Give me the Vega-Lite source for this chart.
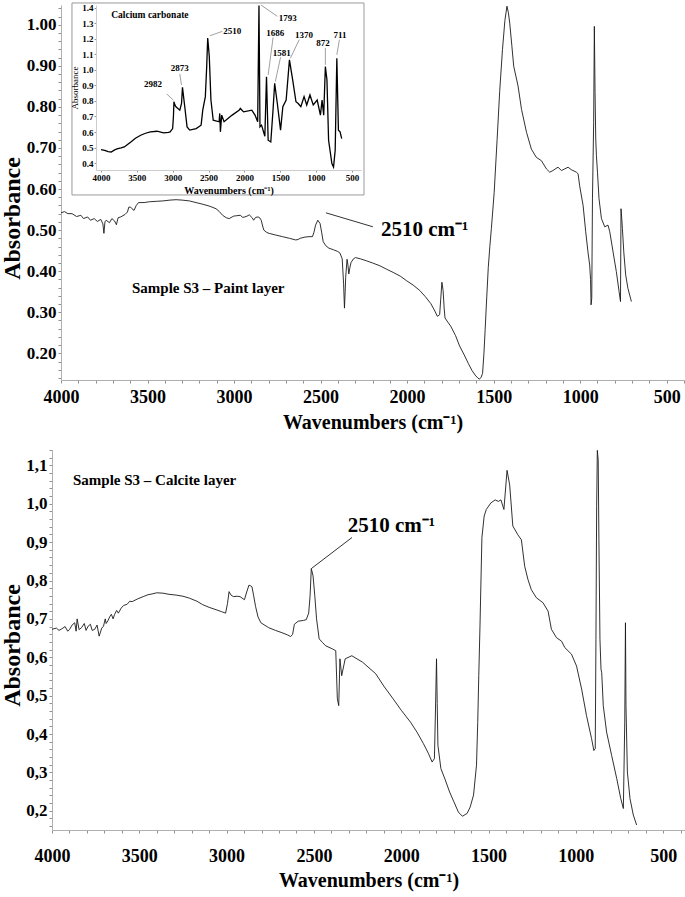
{
  "$schema": "https://vega.github.io/schema/vega-lite/v6.json",
  "width": 685,
  "height": 897,
  "autosize": "none",
  "padding": 0,
  "datasets": {
    "paint": [
      {"wn":4000,"a":0.542},{"wn":3980,"a":0.545},{"wn":3960,"a":0.540},{"wn":3936,"a":0.540},{"wn":3910,"a":0.533},{"wn":3885,"a":0.536},{"wn":3870,"a":0.528},{"wn":3846,"a":0.532},{"wn":3830,"a":0.524},{"wn":3808,"a":0.528},{"wn":3790,"a":0.521},{"wn":3770,"a":0.526},{"wn":3758,"a":0.515},{"wn":3752,"a":0.492},{"wn":3746,"a":0.520},{"wn":3739,"a":0.524},{"wn":3720,"a":0.518},{"wn":3706,"a":0.528},{"wn":3690,"a":0.522},{"wn":3680,"a":0.513},{"wn":3670,"a":0.530},{"wn":3655,"a":0.532},{"wn":3630,"a":0.538},{"wn":3616,"a":0.544},{"wn":3608,"a":0.556},{"wn":3598,"a":0.556},{"wn":3590,"a":0.552},{"wn":3578,"a":0.548},{"wn":3565,"a":0.560},{"wn":3552,"a":0.567},{"wn":3520,"a":0.567},{"wn":3488,"a":0.569},{"wn":3450,"a":0.570},{"wn":3411,"a":0.571},{"wn":3370,"a":0.573},{"wn":3335,"a":0.574},{"wn":3300,"a":0.573},{"wn":3258,"a":0.571},{"wn":3220,"a":0.567},{"wn":3181,"a":0.563},{"wn":3140,"a":0.558},{"wn":3104,"a":0.552},{"wn":3085,"a":0.545},{"wn":3066,"a":0.536},{"wn":3045,"a":0.530},{"wn":3028,"a":0.528},{"wn":3002,"a":0.534},{"wn":2985,"a":0.535},{"wn":2964,"a":0.536},{"wn":2950,"a":0.531},{"wn":2938,"a":0.532},{"wn":2925,"a":0.534},{"wn":2912,"a":0.537},{"wn":2895,"a":0.530},{"wn":2887,"a":0.524},{"wn":2875,"a":0.531},{"wn":2861,"a":0.532},{"wn":2850,"a":0.529},{"wn":2843,"a":0.524},{"wn":2835,"a":0.510},{"wn":2828,"a":0.500},{"wn":2810,"a":0.494},{"wn":2797,"a":0.492},{"wn":2760,"a":0.488},{"wn":2720,"a":0.484},{"wn":2680,"a":0.480},{"wn":2644,"a":0.476},{"wn":2630,"a":0.477},{"wn":2618,"a":0.480},{"wn":2590,"a":0.483},{"wn":2567,"a":0.484},{"wn":2547,"a":0.484},{"wn":2538,"a":0.495},{"wn":2529,"a":0.512},{"wn":2516,"a":0.524},{"wn":2503,"a":0.516},{"wn":2494,"a":0.495},{"wn":2485,"a":0.472},{"wn":2470,"a":0.462},{"wn":2452,"a":0.456},{"wn":2425,"a":0.452},{"wn":2401,"a":0.448},{"wn":2388,"a":0.444},{"wn":2375,"a":0.430},{"wn":2367,"a":0.369},{"wn":2362,"a":0.310},{"wn":2358,"a":0.350},{"wn":2355,"a":0.385},{"wn":2347,"a":0.429},{"wn":2342,"a":0.415},{"wn":2337,"a":0.393},{"wn":2330,"a":0.410},{"wn":2324,"a":0.421},{"wn":2310,"a":0.430},{"wn":2298,"a":0.433},{"wn":2270,"a":0.430},{"wn":2234,"a":0.425},{"wn":2200,"a":0.420},{"wn":2157,"a":0.413},{"wn":2120,"a":0.405},{"wn":2081,"a":0.397},{"wn":2040,"a":0.388},{"wn":2004,"a":0.377},{"wn":1965,"a":0.366},{"wn":1927,"a":0.353},{"wn":1895,"a":0.338},{"wn":1863,"a":0.321},{"wn":1840,"a":0.303},{"wn":1825,"a":0.290},{"wn":1812,"a":0.294},{"wn":1806,"a":0.330},{"wn":1799,"a":0.373},{"wn":1792,"a":0.353},{"wn":1786,"a":0.310},{"wn":1781,"a":0.286},{"wn":1765,"a":0.276},{"wn":1748,"a":0.266},{"wn":1720,"a":0.243},{"wn":1697,"a":0.218},{"wn":1670,"a":0.196},{"wn":1646,"a":0.175},{"wn":1625,"a":0.158},{"wn":1607,"a":0.147},{"wn":1592,"a":0.140},{"wn":1582,"a":0.137},{"wn":1572,"a":0.142},{"wn":1564,"a":0.151},{"wn":1556,"a":0.200},{"wn":1549,"a":0.258},{"wn":1540,"a":0.335},{"wn":1531,"a":0.409},{"wn":1522,"a":0.460},{"wn":1513,"a":0.504},{"wn":1497,"a":0.591},{"wn":1480,"a":0.720},{"wn":1465,"a":0.838},{"wn":1449,"a":0.939},{"wn":1435,"a":1.010},{"wn":1423,"a":1.045},{"wn":1415,"a":1.030},{"wn":1407,"a":1.004},{"wn":1395,"a":0.950},{"wn":1384,"a":0.899},{"wn":1359,"a":0.851},{"wn":1339,"a":0.794},{"wn":1310,"a":0.738},{"wn":1282,"a":0.697},{"wn":1253,"a":0.677},{"wn":1224,"a":0.669},{"wn":1195,"a":0.649},{"wn":1176,"a":0.641},{"wn":1157,"a":0.645},{"wn":1140,"a":0.650},{"wn":1128,"a":0.653},{"wn":1108,"a":0.645},{"wn":1089,"a":0.649},{"wn":1070,"a":0.653},{"wn":1051,"a":0.647},{"wn":1022,"a":0.641},{"wn":1012,"a":0.637},{"wn":1003,"a":0.608},{"wn":983,"a":0.560},{"wn":968,"a":0.496},{"wn":955,"a":0.447},{"wn":945,"a":0.415},{"wn":940,"a":0.380},{"wn":937,"a":0.318},{"wn":933,"a":0.334},{"wn":929,"a":0.576},{"wn":922,"a":0.762},{"wn":918,"a":0.996},{"wn":914,"a":0.835},{"wn":910,"a":0.722},{"wn":906,"a":0.681},{"wn":900,"a":0.641},{"wn":891,"a":0.576},{"wn":877,"a":0.528},{"wn":858,"a":0.508},{"wn":839,"a":0.512},{"wn":829,"a":0.496},{"wn":810,"a":0.447},{"wn":791,"a":0.399},{"wn":775,"a":0.350},{"wn":767,"a":0.326},{"wn":764,"a":0.552},{"wn":760,"a":0.530},{"wn":756,"a":0.504},{"wn":748,"a":0.447},{"wn":737,"a":0.391},{"wn":724,"a":0.358},{"wn":704,"a":0.326}
    ],
    "calcite": [
      {"wn":4000,"a":0.673},{"wn":3975,"a":0.676},{"wn":3960,"a":0.670},{"wn":3944,"a":0.674},{"wn":3925,"a":0.680},{"wn":3910,"a":0.668},{"wn":3900,"a":0.672},{"wn":3885,"a":0.684},{"wn":3870,"a":0.690},{"wn":3862,"a":0.668},{"wn":3856,"a":0.700},{"wn":3845,"a":0.672},{"wn":3831,"a":0.677},{"wn":3815,"a":0.688},{"wn":3805,"a":0.670},{"wn":3793,"a":0.681},{"wn":3780,"a":0.686},{"wn":3770,"a":0.670},{"wn":3755,"a":0.673},{"wn":3742,"a":0.684},{"wn":3730,"a":0.655},{"wn":3715,"a":0.676},{"wn":3705,"a":0.681},{"wn":3695,"a":0.700},{"wn":3690,"a":0.688},{"wn":3680,"a":0.695},{"wn":3670,"a":0.705},{"wn":3660,"a":0.712},{"wn":3650,"a":0.700},{"wn":3642,"a":0.711},{"wn":3630,"a":0.722},{"wn":3620,"a":0.715},{"wn":3604,"a":0.728},{"wn":3590,"a":0.735},{"wn":3570,"a":0.738},{"wn":3555,"a":0.746},{"wn":3541,"a":0.745},{"wn":3510,"a":0.752},{"wn":3478,"a":0.758},{"wn":3450,"a":0.763},{"wn":3427,"a":0.765},{"wn":3400,"a":0.768},{"wn":3364,"a":0.767},{"wn":3330,"a":0.764},{"wn":3289,"a":0.762},{"wn":3250,"a":0.759},{"wn":3213,"a":0.754},{"wn":3170,"a":0.746},{"wn":3137,"a":0.737},{"wn":3100,"a":0.730},{"wn":3061,"a":0.724},{"wn":3030,"a":0.719},{"wn":3006,"a":0.715},{"wn":2995,"a":0.740},{"wn":2986,"a":0.771},{"wn":2975,"a":0.762},{"wn":2961,"a":0.758},{"wn":2940,"a":0.759},{"wn":2923,"a":0.758},{"wn":2905,"a":0.752},{"wn":2898,"a":0.750},{"wn":2885,"a":0.770},{"wn":2872,"a":0.788},{"wn":2862,"a":0.786},{"wn":2855,"a":0.784},{"wn":2845,"a":0.760},{"wn":2834,"a":0.732},{"wn":2820,"a":0.705},{"wn":2804,"a":0.690},{"wn":2759,"a":0.677},{"wn":2720,"a":0.670},{"wn":2683,"a":0.664},{"wn":2650,"a":0.658},{"wn":2633,"a":0.654},{"wn":2622,"a":0.660},{"wn":2612,"a":0.686},{"wn":2590,"a":0.694},{"wn":2560,"a":0.696},{"wn":2544,"a":0.698},{"wn":2530,"a":0.715},{"wn":2522,"a":0.760},{"wn":2515,"a":0.831},{"wn":2505,"a":0.812},{"wn":2495,"a":0.760},{"wn":2485,"a":0.700},{"wn":2470,"a":0.648},{"wn":2450,"a":0.638},{"wn":2433,"a":0.630},{"wn":2395,"a":0.622},{"wn":2375,"a":0.617},{"wn":2366,"a":0.492},{"wn":2358,"a":0.474},{"wn":2351,"a":0.596},{"wn":2341,"a":0.552},{"wn":2321,"a":0.596},{"wn":2283,"a":0.604},{"wn":2221,"a":0.587},{"wn":2146,"a":0.557},{"wn":2100,"a":0.525},{"wn":2047,"a":0.492},{"wn":2000,"a":0.462},{"wn":1947,"a":0.431},{"wn":1910,"a":0.405},{"wn":1873,"a":0.375},{"wn":1845,"a":0.350},{"wn":1823,"a":0.327},{"wn":1810,"a":0.336},{"wn":1804,"a":0.460},{"wn":1798,"a":0.596},{"wn":1794,"a":0.480},{"wn":1790,"a":0.371},{"wn":1773,"a":0.310},{"wn":1750,"a":0.283},{"wn":1723,"a":0.249},{"wn":1700,"a":0.225},{"wn":1673,"a":0.197},{"wn":1660,"a":0.190},{"wn":1648,"a":0.186},{"wn":1635,"a":0.190},{"wn":1623,"a":0.193},{"wn":1605,"a":0.210},{"wn":1586,"a":0.241},{"wn":1569,"a":0.319},{"wn":1562,"a":0.430},{"wn":1556,"a":0.552},{"wn":1549,"a":0.682},{"wn":1538,"a":0.912},{"wn":1525,"a":0.968},{"wn":1513,"a":0.985},{"wn":1487,"a":1.002},{"wn":1462,"a":1.010},{"wn":1444,"a":1.006},{"wn":1429,"a":1.010},{"wn":1412,"a":0.985},{"wn":1394,"a":1.087},{"wn":1379,"a":1.049},{"wn":1361,"a":0.942},{"wn":1332,"a":0.919},{"wn":1312,"a":0.906},{"wn":1293,"a":0.837},{"wn":1274,"a":0.802},{"wn":1255,"a":0.776},{"wn":1226,"a":0.755},{"wn":1188,"a":0.742},{"wn":1159,"a":0.720},{"wn":1140,"a":0.673},{"wn":1111,"a":0.651},{"wn":1082,"a":0.642},{"wn":1063,"a":0.625},{"wn":1025,"a":0.608},{"wn":996,"a":0.577},{"wn":967,"a":0.517},{"wn":939,"a":0.448},{"wn":910,"a":0.388},{"wn":897,"a":0.357},{"wn":889,"a":0.362},{"wn":885,"a":0.647},{"wn":881,"a":0.992},{"wn":877,"a":1.139},{"wn":872,"a":1.113},{"wn":868,"a":0.906},{"wn":862,"a":0.647},{"wn":856,"a":0.569},{"wn":852,"a":0.560},{"wn":843,"a":0.474},{"wn":824,"a":0.405},{"wn":795,"a":0.344},{"wn":766,"a":0.284},{"wn":743,"a":0.232},{"wn":728,"a":0.206},{"wn":720,"a":0.431},{"wn":716,"a":0.690},{"wn":713,"a":0.474},{"wn":705,"a":0.301},{"wn":690,"a":0.232},{"wn":671,"a":0.189},{"wn":652,"a":0.163}
    ],
    "caco3": [
      {"wn":4000,"a":0.486},{"wn":3949,"a":0.482},{"wn":3900,"a":0.474},{"wn":3858,"a":0.471},{"wn":3810,"a":0.485},{"wn":3766,"a":0.493},{"wn":3720,"a":0.497},{"wn":3675,"a":0.504},{"wn":3630,"a":0.520},{"wn":3584,"a":0.536},{"wn":3520,"a":0.560},{"wn":3447,"a":0.579},{"wn":3380,"a":0.592},{"wn":3311,"a":0.601},{"wn":3220,"a":0.605},{"wn":3128,"a":0.594},{"wn":3060,"a":0.598},{"wn":3037,"a":0.601},{"wn":3001,"a":0.622},{"wn":2990,"a":0.700},{"wn":2983,"a":0.795},{"wn":2970,"a":0.775},{"wn":2955,"a":0.763},{"wn":2901,"a":0.741},{"wn":2877,"a":0.784},{"wn":2864,"a":0.888},{"wn":2832,"a":0.763},{"wn":2800,"a":0.633},{"wn":2763,"a":0.612},{"wn":2673,"a":0.622},{"wn":2604,"a":0.644},{"wn":2581,"a":0.741},{"wn":2545,"a":0.828},{"wn":2526,"a":1.022},{"wn":2512,"a":1.206},{"wn":2490,"a":1.087},{"wn":2467,"a":0.806},{"wn":2435,"a":0.676},{"wn":2353,"a":0.666},{"wn":2344,"a":0.720},{"wn":2335,"a":0.601},{"wn":2317,"a":0.709},{"wn":2284,"a":0.666},{"wn":2171,"a":0.709},{"wn":2071,"a":0.741},{"wn":2057,"a":0.752},{"wn":2012,"a":0.730},{"wn":1897,"a":0.741},{"wn":1852,"a":0.709},{"wn":1815,"a":0.666},{"wn":1797,"a":1.415},{"wn":1783,"a":0.633},{"wn":1761,"a":0.644},{"wn":1715,"a":0.573},{"wn":1692,"a":0.957},{"wn":1669,"a":0.547},{"wn":1632,"a":0.536},{"wn":1601,"a":0.741},{"wn":1578,"a":0.914},{"wn":1541,"a":0.784},{"wn":1496,"a":0.612},{"wn":1464,"a":0.763},{"wn":1418,"a":0.806},{"wn":1372,"a":1.065},{"wn":1327,"a":0.936},{"wn":1281,"a":0.795},{"wn":1250,"a":0.784},{"wn":1213,"a":0.763},{"wn":1168,"a":0.828},{"wn":1131,"a":0.774},{"wn":1086,"a":0.839},{"wn":1040,"a":0.774},{"wn":985,"a":0.806},{"wn":940,"a":0.709},{"wn":917,"a":0.806},{"wn":894,"a":0.709},{"wn":871,"a":1.022},{"wn":849,"a":0.936},{"wn":826,"a":0.547},{"wn":780,"a":0.396},{"wn":757,"a":0.374},{"wn":734,"a":0.482},{"wn":711,"a":1.076},{"wn":689,"a":0.612},{"wn":666,"a":0.601},{"wn":643,"a":0.557}
    ],
    "insetLabels": [
      {"t":"2982","wn":3274,"a":0.908},{"t":"2873","wn":2901,"a":1.011},{"t":"2510","wn":2171,"a":1.249},{"t":"1793","wn":1396,"a":1.335},{"t":"1686","wn":1569,"a":1.238},{"t":"1581","wn":1478,"a":1.108},{"t":"1370","wn":1168,"a":1.227},{"t":"872","wn":903,"a":1.173},{"t":"711","wn":666,"a":1.227}
    ],
    "insetLeaders": [
      {"wn":3083,"a":0.845,"wn2":2992,"a2":0.806},{"wn":2901,"a":0.975,"wn2":2878,"a2":0.903},{"wn":2481,"a":1.221,"wn2":2308,"a2":1.249},{"wn":1770,"a":1.419,"wn2":1541,"a2":1.346},{"wn":1600,"a":1.21,"wn2":1669,"a2":0.968},{"wn":1496,"a":1.082,"wn2":1569,"a2":0.925},{"wn":1236,"a":1.195,"wn2":1359,"a2":1.076},{"wn":871,"a":1.141,"wn2":871,"a2":1.033},{"wn":675,"a":1.195,"wn2":711,"a2":1.098}
    ]
  },
  "layer": [
    {
      "layer": [
        {
          "data": {"name": "paint"},
          "mark": {"type": "line", "color": "#1a1a1a", "strokeWidth": 0.9},
          "encoding": {
            "x": {"field": "wn", "type": "quantitative", "scale": {"domain": [4000, 400], "range": [61, 684], "nice": false, "zero": false},
              "axis": {"orient": "bottom", "offset": -517,
                "values": [4000,3900,3800,3700,3600,3500,3400,3300,3200,3100,3000,2900,2800,2700,2600,2500,2400,2300,2200,2100,2000,1900,1800,1700,1600,1500,1400,1300,1200,1100,1000,900,800,700,600,500,400],
                "tickCount": 500,
                "labelExpr": "datum.value % 500 === 0 ? format(datum.value, 'd') : ''", "labelFlush": false, "labelOverlap": false, "labelFontSize": 18, "labelPadding": 5,
                "title": "Wavenumbers (cm⁻¹)", "titleFontSize": 20, "titlePadding": 6}},
            "y": {"field": "a", "type": "quantitative", "scale": {"domain": [0.135, 1.048], "range": [380, 5], "nice": false, "zero": false},
              "axis": {"orient": "left", "offset": -61,
                "values": [0.14,0.16,0.18,0.2,0.22,0.24,0.26,0.28,0.3,0.32,0.34,0.36,0.38,0.4,0.42,0.44,0.46,0.48,0.5,0.52,0.54,0.56,0.58,0.6,0.62,0.64,0.66,0.68,0.7,0.72,0.74,0.76,0.78,0.8,0.82,0.84,0.86,0.88,0.9,0.92,0.94,0.96,0.98,1.0,1.02,1.04],
                "tickCount": 500,
                "labelExpr": "abs(datum.value*10 - round(datum.value*10)) < 0.001 ? format(datum.value, '.2f') : ''", "labelOverlap": false, "labelFontSize": 17, "labelPadding": 2,
                "title": "Absorbance", "titleFontSize": 24, "titleX": -37, "titleY": 218}}
          }
        },
        {
          "data": {"values": [{"wn": 2469, "a": 0.542, "wn2": 2198, "a2": 0.508}]},
          "mark": {"type": "rule", "color": "#333", "strokeWidth": 1},
          "encoding": {"x": {"field": "wn", "type": "quantitative"}, "y": {"field": "a", "type": "quantitative"}, "x2": {"field": "wn2"}, "y2": {"field": "a2"}}
        },
        {
          "data": {"values": [{"t": "Sample S3 – Paint layer", "wn": 3590, "a": 0.358}]},
          "mark": {"type": "text", "align": "left", "baseline": "middle", "fontSize": 15, "fontWeight": "bold", "font": "Liberation Serif", "color": "#000"},
          "encoding": {"x": {"field": "wn", "type": "quantitative"}, "y": {"field": "a", "type": "quantitative"}, "text": {"field": "t"}}
        },
        {
          "data": {"values": [{"t": "2510 cm⁻¹", "wn": 2151, "a": 0.501}]},
          "mark": {"type": "text", "align": "left", "baseline": "middle", "fontSize": 21, "fontWeight": "bold", "font": "Liberation Serif", "color": "#000"},
          "encoding": {"x": {"field": "wn", "type": "quantitative"}, "y": {"field": "a", "type": "quantitative"}, "text": {"field": "t"}}
        }
      ]
    },
    {
      "layer": [
        {
          "data": {"values": [{"wn": 4405, "a": 1.432, "wn2": 332, "a2": 0.194}]},
          "mark": {"type": "rect", "fill": "white", "stroke": "#9a9a9a", "strokeWidth": 1},
          "encoding": {
            "x": {"field": "wn", "type": "quantitative", "scale": {"domain": [4070, 374], "range": [96, 361], "nice": false, "zero": false},
              "axis": {"orient": "bottom", "offset": -727, "values": [4000,3500,3000,2500,2000,1500,1000,500], "tickCount": 500, "format": "d", "labelFlush": false, "labelOverlap": false,
                "labelFontSize": 9, "labelPadding": 1, "tickSize": 2, "domainColor": "#cccccc", "zindex": 1,
                "title": "Wavenumbers (cm⁻¹)", "titleFontSize": 10, "titlePadding": 3}},
            "x2": {"field": "wn2"},
            "y": {"field": "a", "type": "quantitative", "scale": {"domain": [0.355, 1.419], "range": [170, 5], "nice": false, "zero": false},
              "axis": {"orient": "left", "offset": -96, "values": [0.4,0.5,0.6,0.7,0.8,0.9,1.0,1.1,1.2,1.3,1.4], "tickCount": 500, "format": ".1f", "labelOverlap": false,
                "labelFontSize": 9, "labelPadding": 1, "tickSize": 2, "domainColor": "#cccccc", "zindex": 1,
                "title": "Absorbance", "titleFontSize": 9, "titleFontWeight": "normal", "titlePadding": 2}},
            "y2": {"field": "a2"}
          }
        },
        {
          "data": {"name": "caco3"},
          "mark": {"type": "line", "color": "#000", "strokeWidth": 1.3},
          "encoding": {"x": {"field": "wn", "type": "quantitative"}, "y": {"field": "a", "type": "quantitative"}}
        },
        {
          "data": {"name": "insetLeaders"},
          "mark": {"type": "rule", "color": "#777", "strokeWidth": 0.7},
          "encoding": {"x": {"field": "wn", "type": "quantitative"}, "y": {"field": "a", "type": "quantitative"}, "x2": {"field": "wn2"}, "y2": {"field": "a2"}}
        },
        {
          "data": {"name": "insetLabels"},
          "mark": {"type": "text", "align": "center", "baseline": "middle", "fontSize": 9, "fontWeight": "bold", "font": "Liberation Serif", "color": "#000"},
          "encoding": {"x": {"field": "wn", "type": "quantitative"}, "y": {"field": "a", "type": "quantitative"}, "text": {"field": "t"}}
        },
        {
          "data": {"values": [{"t": "Calcium carbonate", "wn": 3858, "a": 1.357}]},
          "mark": {"type": "text", "align": "left", "baseline": "middle", "fontSize": 9.5, "fontWeight": "bold", "font": "Liberation Serif", "color": "#000"},
          "encoding": {"x": {"field": "wn", "type": "quantitative"}, "y": {"field": "a", "type": "quantitative"}, "text": {"field": "t"}}
        }
      ]
    },
    {
      "layer": [
        {
          "data": {"name": "calcite"},
          "mark": {"type": "line", "color": "#1a1a1a", "strokeWidth": 0.9},
          "encoding": {
            "x": {"field": "wn", "type": "quantitative", "scale": {"domain": [4000, 375], "range": [52, 685], "nice": false, "zero": false},
              "axis": {"orient": "bottom", "offset": -67,
                "values": [4000,3900,3800,3700,3600,3500,3400,3300,3200,3100,3000,2900,2800,2700,2600,2500,2400,2300,2200,2100,2000,1900,1800,1700,1600,1500,1400,1300,1200,1100,1000,900,800,700,600,500,400],
                "tickCount": 500,
                "labelExpr": "datum.value % 500 === 0 ? format(datum.value, 'd') : ''", "labelFlush": false, "labelOverlap": false, "labelFontSize": 18, "labelPadding": 14,
                "title": "Wavenumbers (cm⁻¹)", "titleFontSize": 20, "titlePadding": 5}},
            "y": {"field": "a", "type": "quantitative", "scale": {"domain": [0.15, 1.14], "range": [830, 450], "nice": false, "zero": false},
              "axis": {"orient": "left", "offset": -52,
                "values": [0.16,0.18,0.2,0.22,0.24,0.26,0.28,0.3,0.32,0.34,0.36,0.38,0.4,0.42,0.44,0.46,0.48,0.5,0.52,0.54,0.56,0.58,0.6,0.62,0.64,0.66,0.68,0.7,0.72,0.74,0.76,0.78,0.8,0.82,0.84,0.86,0.88,0.9,0.92,0.94,0.96,0.98,1.0,1.02,1.04,1.06,1.08,1.1,1.12,1.14],
                "tickCount": 500,
                "labelExpr": "abs(datum.value*10 - round(datum.value*10)) < 0.001 ? replace(format(datum.value, '.1f'), '.', ',') : ''", "labelOverlap": false, "labelFontSize": 17, "labelPadding": 2,
                "title": "Absorbance", "titleFontSize": 24, "titleX": -28, "titleY": 645}}
          }
        },
        {
          "data": {"values": [{"wn": 2515, "a": 0.831, "wn2": 2282, "a2": 0.912}]},
          "mark": {"type": "rule", "color": "#333", "strokeWidth": 1},
          "encoding": {"x": {"field": "wn", "type": "quantitative"}, "y": {"field": "a", "type": "quantitative"}, "x2": {"field": "wn2"}, "y2": {"field": "a2"}}
        },
        {
          "data": {"values": [{"t": "Sample S3 – Calcite layer", "wn": 3880, "a": 1.062}]},
          "mark": {"type": "text", "align": "left", "baseline": "middle", "fontSize": 15, "fontWeight": "bold", "font": "Liberation Serif", "color": "#000"},
          "encoding": {"x": {"field": "wn", "type": "quantitative"}, "y": {"field": "a", "type": "quantitative"}, "text": {"field": "t"}}
        },
        {
          "data": {"values": [{"t": "2510 cm⁻¹", "wn": 2307, "a": 0.942}]},
          "mark": {"type": "text", "align": "left", "baseline": "middle", "fontSize": 21, "fontWeight": "bold", "font": "Liberation Serif", "color": "#000"},
          "encoding": {"x": {"field": "wn", "type": "quantitative"}, "y": {"field": "a", "type": "quantitative"}, "text": {"field": "t"}}
        }
      ]
    }
  ],
  "resolve": {"scale": {"x": "independent", "y": "independent"}, "axis": {"x": "independent", "y": "independent"}},
  "config": {
    "font": "Liberation Serif",
    "view": {"stroke": null},
    "axis": {"grid": false, "labelFont": "Liberation Serif", "titleFont": "Liberation Serif", "labelColor": "#000", "titleColor": "#000",
      "domainColor": "#b0b0b0", "tickColor": "#909090", "tickSize": 3, "labelFontWeight": "bold", "titleFontWeight": "bold"}
  }
}
